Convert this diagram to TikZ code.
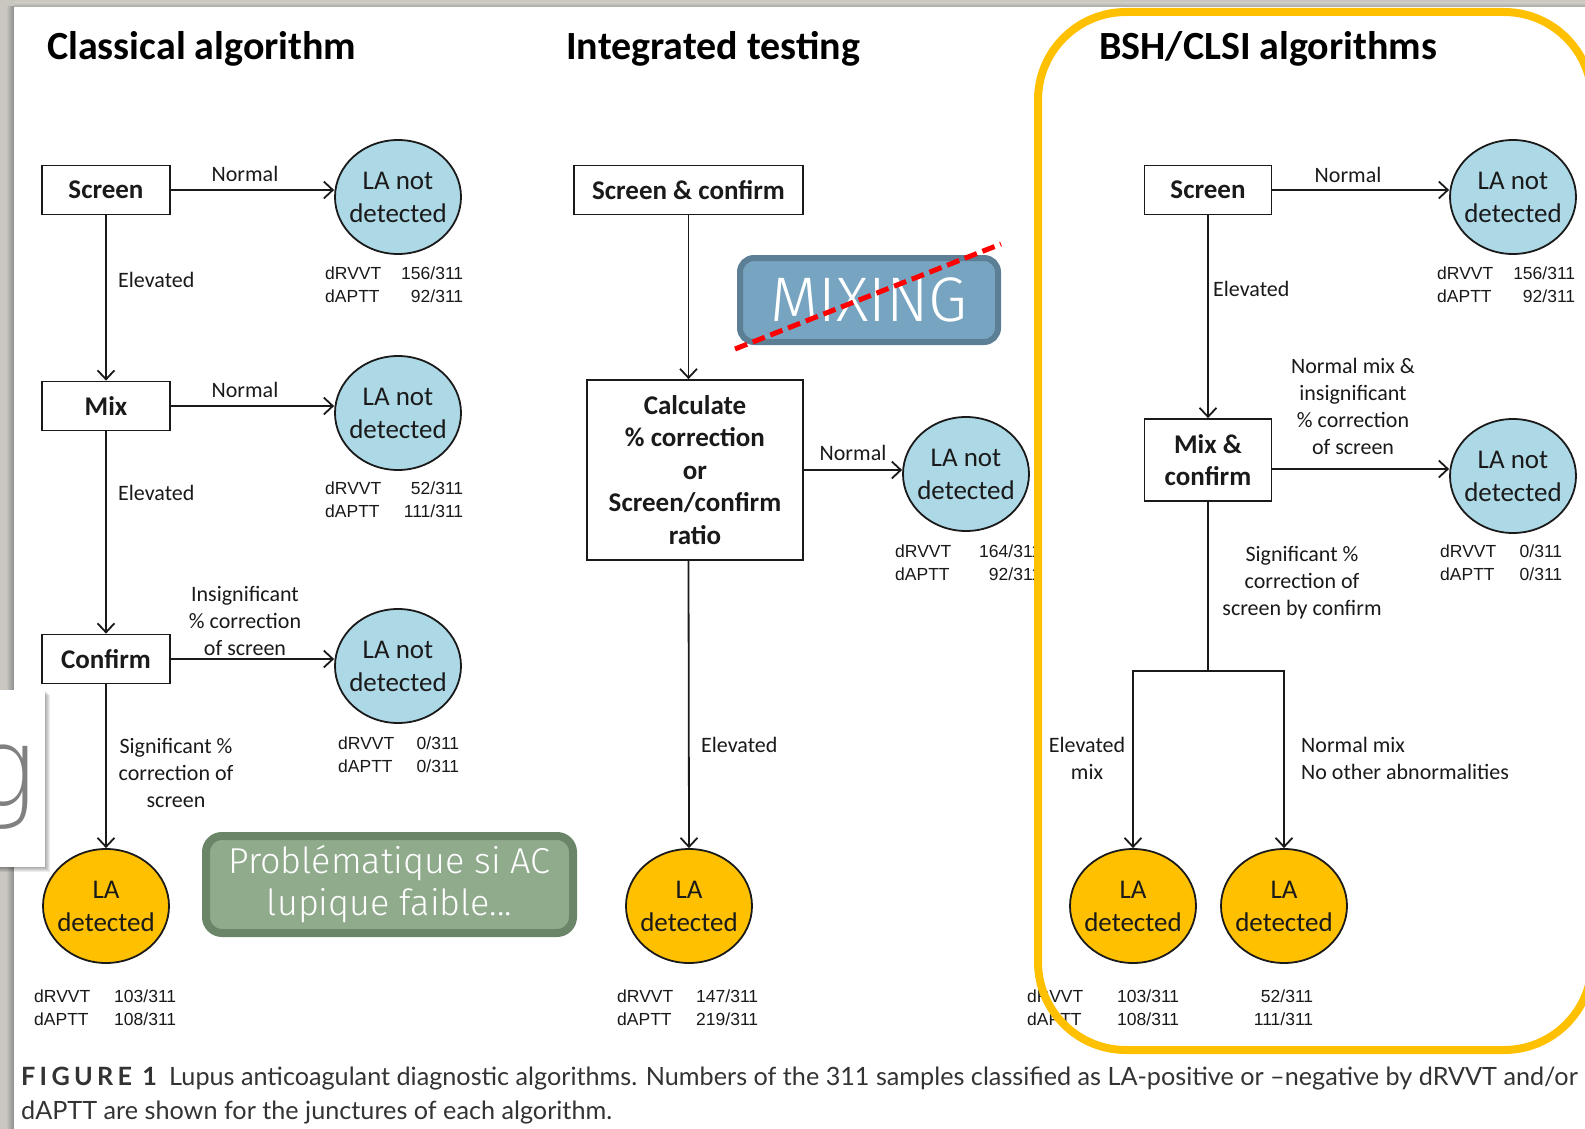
\documentclass[tikz,border=0pt]{standalone}
\usepackage{fontspec}
\setmainfont{Carlito}
\newfontfamily\statfont{Liberation Sans}
\newfontfamily\capfont{Lato}
\IfFontExistsTF{Fira Sans Light}
  {\newfontfamily\slidefont{Fira Sans Light}}
  {\newfontfamily\slidefont{Fira Sans}}
\IfFontExistsTF{DejaVu Sans ExtraLight}
  {\newfontfamily\glyphfont{DejaVu Sans ExtraLight}}
  {\newfontfamily\glyphfont{Liberation Sans}}
\usetikzlibrary{arrows.meta,shapes.geometric,calc}

\definecolor{pagegray}{HTML}{C9C7C0}
\definecolor{negblue}{HTML}{ADD8E6}
\definecolor{posgold}{HTML}{FFC000}
\definecolor{framegold}{HTML}{FFC000}
\definecolor{mixfill}{HTML}{77A4C0}
\definecolor{mixedge}{HTML}{5D7F95}
\definecolor{notefill}{HTML}{8FAB8C}
\definecolor{noteedge}{HTML}{6B8568}
\definecolor{ink}{HTML}{1A1A1A}
\definecolor{capink}{HTML}{333333}

% two result lines under a junction: test name, then count
\newcommand\twostat[4]{\makebox[#1][l]{dRVVT}\makebox[#2][r]{#3}\\\makebox[#1][l]{dAPTT}\makebox[#2][r]{#4}}

\tikzset{
  stepbox/.style={draw=ink, line width=1.8pt, fill=white, inner sep=0pt, align=center,
    text=ink, font=\bfseries\fontsize{27}{32.5}\selectfont},
  lanegative/.style={ellipse, draw=ink, line width=1.8pt, fill=negblue, minimum width=126pt,
    minimum height=114pt, inner xsep=-6pt, inner ysep=0pt, align=center, text=ink,
    font=\fontsize{27}{33}\selectfont},
  lapositive/.style={lanegative, fill=posgold},
  lbl/.style={inner sep=0pt, align=center, text=ink, font=\fontsize{22}{27}\selectfont},
  stat/.style={inner sep=0pt, align=left, text=black!90, anchor=north west,
    font=\statfont\fontsize{17.5}{22.2}\selectfont},
  ttl/.style={inner sep=0pt, anchor=west, text=black, font=\bfseries\fontsize{40}{48}\selectfont},
  arr/.style={draw=ink, line width=1.8pt, -{Straight Barb[length=9pt,width=17pt,line width=1.8pt]}},
  link/.style={draw=ink, line width=1.8pt},
  slidebox/.style={rounded corners=14pt, inner sep=0pt, align=center, text=white},
  captext/.style={inner sep=0pt, anchor=base west, text=capink, font=\capfont\fontsize{25.2}{30}\selectfont},
}

\begin{document}
\begin{tikzpicture}[x=1pt, y=-1pt]
\useasboundingbox (0,0) rectangle (1585,1129);

% page on a gray desk
\fill[pagegray] (0,0) rectangle (1585,1129);
\shade[left color=pagegray, right color=black!45] (6,7) rectangle (14,1129);
\shade[top color=pagegray, bottom color=black!35] (14,3) rectangle (1585,7);
\fill[white] (14,7) rectangle (1585,1129);

% slide card peeking in from the left
\foreach \i in {1,...,5}
  \fill[black, opacity=0.07] (0,690+\i) rectangle (45+\i,867+\i);
\fill[white] (0,690) rectangle (45,867);
\begin{scope}
  \clip (0,690) rectangle (45,867);
  \node[anchor=base east, inner sep=0pt, text=black!50, font=\glyphfont\fontsize{110}{110}\selectfont] (gl) at (37,806) {g};
\end{scope}

% ---------------- Classical algorithm ----------------
\node[ttl] (t1) at (47,49) {Classical algorithm};
\node[stepbox, minimum width=128pt, minimum height=49pt] (s1) at (106,190) {Screen};
\node[stepbox, minimum width=128pt, minimum height=49pt] (m1) at (106,406) {Mix};
\node[stepbox, minimum width=128pt, minimum height=49pt] (c1) at (106,659) {Confirm};
\node[lanegative] (n1) at (398,197) {LA not\\detected};
\node[lanegative] (n2) at (398,413) {LA not\\detected};
\node[lanegative] (n3) at (398,666) {LA not\\detected};
\node[lapositive] (p1) at (106,906) {LA\\detected};

\draw[arr] (s1.east) -- (s1.east -| n1.west);
\draw[arr] (m1.east) -- (m1.east -| n2.west);
\draw[arr] (c1.east) -- (c1.east -| n3.west);
\draw[arr] (s1.south) -- (m1.north);
\draw[arr] (m1.south) -- (c1.north);
\draw[arr] (c1.south) -- (p1.north);

\node[lbl] (a1) at (245,174) {Normal};
\node[lbl, anchor=west] (a2) at (118,280) {Elevated};
\node[lbl] (a3) at (245,390) {Normal};
\node[lbl, anchor=west] (a4) at (118,493) {Elevated};
\node[lbl] (a5) at (245,621) {Insignificant\\\% correction\\of screen};
\node[lbl] (a6) at (176,773) {Significant \%\\correction of\\screen};

\node[stat] (r1) at (325,267) {\twostat{70pt}{68pt}{156/311}{92/311}};
\node[stat] (r2) at (325,482) {\twostat{70pt}{68pt}{52/311}{111/311}};
\node[stat] (r3) at (338,737) {\twostat{77pt}{44pt}{0/311}{0/311}};
\node[stat] (r4) at (34,990) {\twostat{74pt}{68pt}{103/311}{108/311}};

% ---------------- Integrated testing ----------------
\node[ttl] (t2) at (566,49) {Integrated testing};
\node[stepbox, minimum width=229pt, minimum height=49pt] (sc) at (688.5,190) {Screen \& confirm};
\node[stepbox, minimum width=216pt, minimum height=180pt] (calc) at (695,470)
  {Calculate\\\% correction\\or\\Screen/confirm\\ratio};
\node[lanegative] (n4) at (966,474) {LA not\\detected};
\node[lapositive] (p2) at (689,906) {LA\\detected};

\draw[arr] (sc.south) -- (sc.south |- calc.north);
\draw[arr] (calc.east) -- (calc.east -| n4.west);
\draw[arr] (sc.south |- calc.south) -- (p2.north);

\node[lbl] (a7) at (853,453) {Normal};
\node[lbl, anchor=west] (a8) at (701,745) {Elevated};

\node[stat] (r5) at (895,545) {\twostat{72pt}{74pt}{164/311}{92/311}};
\node[stat] (r6) at (617,990) {\twostat{72pt}{69pt}{147/311}{219/311}};

% ---------------- BSH/CLSI algorithms ----------------
\node[ttl] (t3) at (1099,49) {BSH/CLSI algorithms};
\node[stepbox, minimum width=127pt, minimum height=49pt] (s3) at (1208,190) {Screen};
\node[stepbox, minimum width=127pt, minimum height=82pt] (mc) at (1208,460) {Mix \&\\confirm};
\node[lanegative] (n5) at (1513,197) {LA not\\detected};
\node[lanegative] (n6) at (1513,476) {LA not\\detected};
\node[lapositive] (p3) at (1133,906) {LA\\detected};
\node[lapositive] (p4) at (1284,906) {LA\\detected};

\coordinate (mcout) at ([yshift=-9pt]mc.east);
\coordinate (fork) at (1208,671);
\draw[arr] (s3.east) -- (s3.east -| n5.west);
\draw[arr] (s3.south) -- (mc.north);
\draw[arr] (mcout) -- (mcout -| n6.west);
\draw[link] (mc.south) -- (fork);
\draw[arr] (fork) -| (p3.north);
\draw[arr] (fork) -| (p4.north);

\node[lbl] (b1) at (1348,175) {Normal};
\node[lbl, anchor=west] (b2) at (1213,289) {Elevated};
\node[lbl] (b3) at (1353,406) {Normal mix \&\\insignificant\\\% correction\\of screen};
\node[lbl] (b4) at (1302,583) {Significant \%\\correction of\\screen by confirm};
\node[lbl] (b5) at (1087,758) {Elevated\\mix};
\node[lbl, align=left, anchor=west] (b6) at (1301,758) {Normal mix\\No other abnormalities};

\node[stat] (r7) at (1437,267) {\twostat{70pt}{68pt}{156/311}{92/311}};
\node[stat] (r8) at (1440,545) {\twostat{78pt}{44pt}{0/311}{0/311}};
\node[stat] (r9) at (1027,990)
  {\makebox[80pt][l]{dRVVT}\makebox[72pt][r]{103/311}\makebox[134pt][r]{52/311}\\
   \makebox[80pt][l]{dAPTT}\makebox[72pt][r]{108/311}\makebox[134pt][r]{111/311}};

% ---------------- slide overlays ----------------
\node[slidebox, draw=mixedge, fill=mixfill, line width=6pt, minimum width=258pt, minimum height=84pt,
  font=\slidefont\fontsize{63}{63}\selectfont] (mix) at (869,300) {MIXING};
\coordinate (cross1) at (735,349);
\coordinate (cross2) at (1001,244);
\draw[red, line width=5pt, dash pattern=on 13pt off 6pt] (cross1) -- (cross2);

\node[slidebox, draw=noteedge, fill=notefill, line width=8pt, rounded corners=16pt,
  minimum width=367pt, minimum height=97pt,
  font=\slidefont\fontsize{36}{42}\selectfont] (note) at (389.5,884.5)
  {Problématique si AC\\lupique faible...};

\draw[framegold, line width=8pt, rounded corners=88pt] (1038,12) rectangle (1592,1050);

% ---------------- caption ----------------
\node[captext, font=\capfont\bfseries\fontsize{25.2}{30}\selectfont] (fig) at (21,1085)
  {\addfontfeature{LetterSpace=17}FIGURE 1};
\node[captext] (cap1) at (169,1085)
  {Lupus anticoagulant diagnostic algorithms. Numbers of the 311 samples classified as LA-positive or –negative by dRVVT and/or};
\node[captext] (cap2) at (21,1119) {dAPTT are shown for the junctures of each algorithm.};

\end{tikzpicture}
\end{document}
